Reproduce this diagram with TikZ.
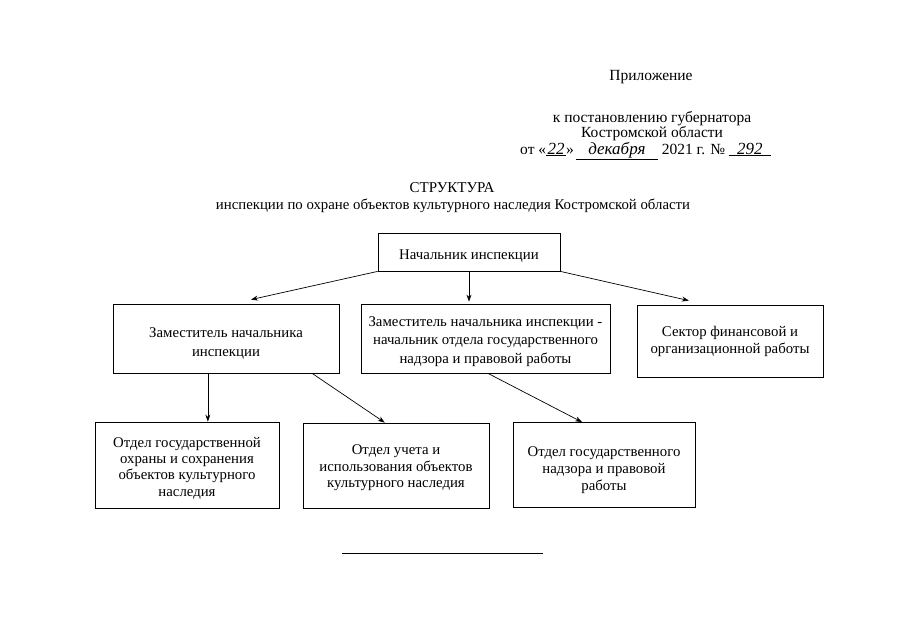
\documentclass[tikz,border=0pt]{standalone}
\usepackage{fontspec}
\setmainfont{Liberation Serif}
\usetikzlibrary{arrows.meta,calc}
\newcommand{\hwline}[2]{\underline{\hbox to #1{\hfil{\fontsize{17}{17}\selectfont\itshape #2}\hfil}}}
\newcommand{\bx}[4]{\parbox[c][#2][c]{#1}{\centering\vspace*{#3}#4\par}}
\begin{document}
\begin{tikzpicture}[x=1pt,y=-1pt,
  box/.style={draw,line width=0.8pt,inner sep=0pt,font=\fontsize{14.8}{17}\selectfont},
  arr/.style={line width=0.7pt,-{Stealth[length=7pt,width=5pt]}},
  txt/.style={inner sep=0pt,font=\fontsize{15.5}{16}\selectfont}]
\useasboundingbox (0,0) rectangle (905,640);
% header
\node[txt] (h1) at (651,77) {Приложение};
\node[txt] (h2) at (652,119) {к постановлению губернатора};
\node[txt] (h3) at (652,134) {Костромской области};
\node[txt,anchor=base west] (h4) at (520,154) {от «\hwline{20pt}{22}»\hspace{2pt}\hwline{82pt}{декабря} 2021 г. № \hwline{42pt}{292}};
\node[txt,font=\fontsize{15}{16}\selectfont] (t1) at (452,188) {СТРУКТУРА};
\node[txt,font=\fontsize{14.8}{16}\selectfont] (t2) at (453,206) {инспекции по охране объектов культурного наследия Костромской области};
% boxes
\node[box] (top) at (469,252) {\bx{182pt}{38pt}{9pt}{Начальник инспекции}};
\node[box,font=\fontsize{14.8}{18.5}\selectfont] (d1) at (226,338.5) {\bx{226pt}{69pt}{10pt}{Заместитель начальника\\инспекции}};
\node[box,font=\fontsize{14.8}{18.5}\selectfont] (d2) at (485.5,338.5) {\bx{249pt}{69pt}{6pt}{Заместитель начальника инспекции -\\начальник отдела государственного\\надзора и правовой работы}};
\node[box,font=\fontsize{14.8}{17}\selectfont] (d3) at (730,341) {\bx{186pt}{72pt}{0pt}{Сектор финансовой и\\организационной работы}};
\node[box,font=\fontsize{14.8}{16.3}\selectfont] (b1) at (187,465) {\bx{184pt}{86pt}{6pt}{Отдел государственной\\охраны и сохранения\\объектов культурного\\наследия}};
\node[box,font=\fontsize{14.8}{16.5}\selectfont] (b2) at (396,465.5) {\bx{186pt}{85pt}{5pt}{Отдел учета и\\использования объектов\\культурного наследия}};
\node[box,font=\fontsize{14.8}{17}\selectfont] (b3) at (604,465) {\bx{182pt}{85pt}{11pt}{Отдел государственного\\надзора и правовой\\работы}};
% connectors
\draw[arr] (top.south west) -- ($(d1.north west)!0.61!(d1.north east)+(0,-4)$);
\draw[arr] (top.south) -- ($(top.south |- d2.north)+(0,-2)$);
\draw[arr] (top.south east) -- ($(d3.north west)!0.28!(d3.north east)+(0,-4)$);
\coordinate (s1) at ($(d1.south west)!0.42!(d1.south east)$);
\draw[arr] (s1) -- (s1 |- b1.north);
\draw[arr] ($(d1.south west)!0.88!(d1.south east)$) -- ($(b2.north west)!0.44!(b2.north east)$);
\draw[arr] ($(d2.south west)!0.51!(d2.south east)$) -- ($(b3.north west)!0.38!(b3.north east)$);
% bottom rule
\coordinate (r1) at (342,553);
\coordinate (r2) at (543,553);
\draw[line width=0.8pt] (r1) -- (r2);
\end{tikzpicture}
\end{document}
